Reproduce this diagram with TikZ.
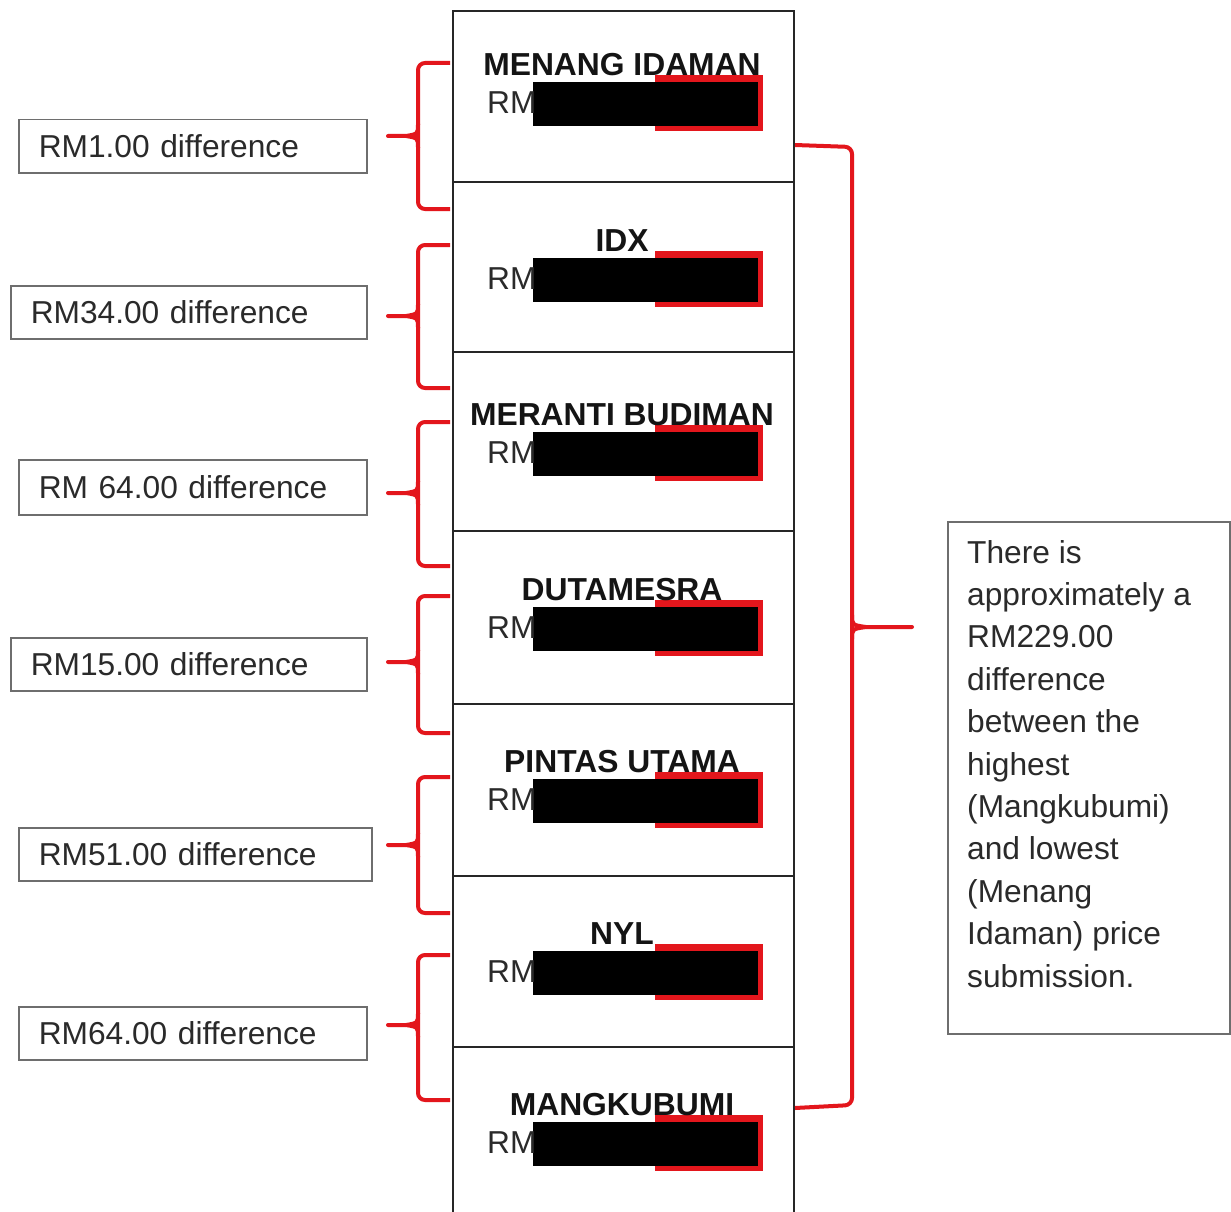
\documentclass[tikz,border=0pt]{standalone}
\usepackage{fontspec}
\setmainfont{Liberation Sans}
\definecolor{bred}{HTML}{E3161C}
\definecolor{txt}{HTML}{2A2A2A}
\definecolor{boxgray}{HTML}{6E6E6E}
\begin{document}
\begin{tikzpicture}[x=1pt,y=-1pt,
  lbl/.style={draw=boxgray, line width=1.5pt, text=txt, font=\fontsize{31.7}{36}\selectfont,
    minimum height=53pt, inner xsep=20pt, inner ysep=0pt, align=left, anchor=north west},
  rowbox/.style={draw=black!85, line width=2pt, minimum width=341pt, anchor=north west, inner sep=0pt},
  title/.style={font=\bfseries\fontsize{31.8}{36}\selectfont, text=black!92, inner sep=0pt},
  rmtext/.style={font=\fontsize{31.7}{36}\selectfont, text=txt, anchor=west, inner sep=0pt},
  brace/.style={draw=bred, line width=4pt, rounded corners=7pt, line join=round},
  bracetip/.style={draw=bred, line width=4pt, line cap=round},
  note/.style={font=\fontsize{31.7}{42.4}\selectfont, text=txt, align=left, anchor=north west, inner sep=0pt}
]
\path[use as bounding box] (0,0) rectangle (1231,1212);
\clip (0,0) rectangle (1231,1212);
\fill[white] (0,0) rectangle (1231,1212);

% column rows
\node[rowbox, minimum height=171pt] (R1) at (452,10) {};
\node[rowbox, minimum height=170pt] (R2) at (452,181) {};
\node[rowbox, minimum height=179pt] (R3) at (452,351) {};
\node[rowbox, minimum height=173pt] (R4) at (452,530) {};
\node[rowbox, minimum height=172pt] (R5) at (452,703) {};
\node[rowbox, minimum height=171pt] (R6) at (452,875) {};
\node[rowbox, minimum height=200pt] (R7) at (452,1046) {};

% redacted values
\foreach \t/\n/\name in {65/1/MENANG IDAMAN, 241/2/IDX, 415/3/MERANTI BUDIMAN, 590/4/DUTAMESRA, 762/5/PINTAS UTAMA, 934/6/NYL, 1105/7/MANGKUBUMI}{
  \fill[bred] (655,\t+10) rectangle (763,\t+66);
  \fill[black] (533,\t+17) rectangle (758,\t+61);
  \node[rmtext] (rm\n) at (487,\t+38) {RM};
  \node[title] (t\n) at (622,\t) {\name};
}

% difference labels
\node[lbl, text width=308pt] (L1) at (18,119) {RM1.00 difference};
\node[lbl, text width=316pt] (L2) at (10,285) {RM34.00 difference};
\node[lbl, text width=308pt, minimum height=55pt] (L3) at (18,459) {RM 64.00 difference};
\node[lbl, text width=316pt] (L4) at (10,637) {RM15.00 difference};
\node[lbl, text width=313pt] (L5) at (18,827) {RM51.00 difference};
\node[lbl, text width=308pt] (L6) at (18,1006) {RM64.00 difference};

% left braces
\foreach \top/\tip/\bot/\n in {63/136/209/1, 245/316/388/2, 422/493/566/3, 596/662/733/4, 777/845/913/5, 955/1025/1100/6}{
  \coordinate (c\n) at (388,\tip);
  \draw[brace] (450,\top) -- (418,\top) -- (418,\bot) -- (450,\bot);
  \draw[bracetip] (418,\tip-12) .. controls (418,\tip-2) .. (406,\tip) -- (c\n);
  \draw[bracetip] (418,\tip+12) .. controls (418,\tip+2) .. (406,\tip);
}

% right brace
\coordinate (cr) at (912,627);
\draw[brace] (795,145) -- (852,147) -- (852,1105) -- (795,1108);
\draw[bracetip] (852,615) .. controls (852,625) .. (866,627) -- (cr);
\draw[bracetip] (852,639) .. controls (852,629) .. (866,627);

% note box
\node[draw=boxgray, line width=1.5pt, anchor=north west, minimum width=282pt, minimum height=512pt, inner sep=0pt] (N) at (947,521) {};
\node[note] (NT) at (967,540) {There is\\approximately a\\RM229.00\\difference\\between the\\highest\\(Mangkubumi)\\and lowest\\(Menang\\Idaman) price\\submission.};
\end{tikzpicture}
\end{document}
